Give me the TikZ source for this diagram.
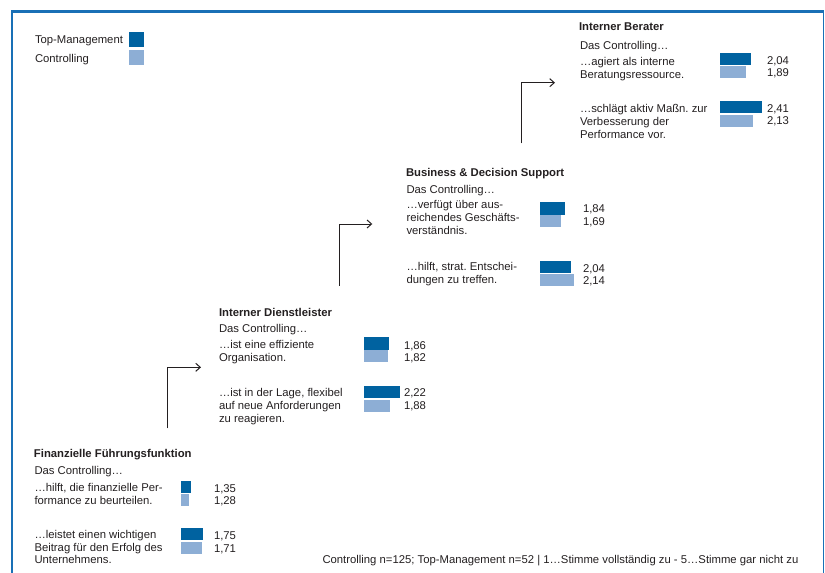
\documentclass[tikz,border=0pt]{standalone}
\usepackage{fontspec}
\setmainfont{Liberation Sans}
\usetikzlibrary{arrows.meta}
\frenchspacing
\definecolor{tmblue}{RGB}{0,98,160}
\definecolor{ctblue}{RGB}{141,174,213}
\definecolor{frameblue}{RGB}{25,112,182}
\definecolor{txtgray}{RGB}{35,31,32}
\tikzset{
  txt/.style={font=\fontsize{11.3}{12.8}\selectfont, text=txtgray, inner sep=0pt, outer sep=0pt, anchor=base west},
  head/.style={txt, font=\fontsize{11.3}{12.8}\selectfont\bfseries},
  item/.style={txt, align=left, anchor=north west},
  tmbar/.style={fill=tmblue, inner sep=0pt, outer sep=0pt, anchor=north west, minimum height=12.3pt},
  ctbar/.style={fill=ctblue, inner sep=0pt, outer sep=0pt, anchor=north west, minimum height=12.3pt},
  legbox/.style={inner sep=0pt, outer sep=0pt, anchor=north west, minimum width=15pt, minimum height=14.7pt},
  conn/.style={draw=txtgray, line width=1pt, -{Straight Barb[length=4.5pt,width=8pt]}},
  framepart/.style={draw=frameblue}
}
\begin{document}
\begin{tikzpicture}[x=1pt,y=-1pt]
\useasboundingbox (0,0) rectangle (825,573);
% frame
\coordinate (fl) at (12.2,573);
\coordinate (ftl) at (12.2,11.2);
\coordinate (ftr) at (823.5,11.2);
\coordinate (fr) at (823.5,573);
\draw[framepart, line width=2.4pt] (fl) -- (ftl);
\draw[framepart, line width=2.6pt] (11,11.2) -- (ftr);
\draw[framepart, line width=1.3pt] (ftr) -- (fr);

% legend
\node[txt] (legtm) at (35,43) {Top-Management};
\node[txt] (legct) at (35,62.5) {Controlling};
\node[legbox, fill=tmblue] (legtmbox) at (129,32) {};
\node[legbox, fill=ctblue] (legctbox) at (129,50) {};

% Block 1: Interner Berater
\node[head] (h1) at (579,30.7) {Interner Berater};
\node[txt] (s1) at (580,49.3) {Das Controlling…};
\node[item] (i1a) at (580,57.5) {…agiert als interne\\Beratungsressource.};
\node[item] (i1b) at (580,104.5) {…schlägt aktiv Maßn. zur\\Verbesserung der\\Performance vor.};
\node[tmbar, minimum width={30*(2.04-1)}] (b1at) at (719.5,52.7) {};
\node[ctbar, minimum width={30*(1.89-1)}] (b1ac) at (719.5,66) {};
\node[tmbar, minimum width={30*(2.41-1)}] (b1bt) at (719.5,100.7) {};
\node[ctbar, minimum width={30*(2.13-1)}] (b1bc) at (719.5,114.7) {};
\node[txt] (n1at) at (767,64) {2,04};
\node[txt] (n1ac) at (767,76) {1,89};
\node[txt] (n1bt) at (767,112.3) {2,41};
\node[txt] (n1bc) at (767,124.7) {2,13};

% Block 2: Business & Decision Support
\node[head] (h2) at (406,176.7) {Business \& Decision Support};
\node[txt] (s2) at (406.5,193.3) {Das Controlling…};
\node[item] (i2a) at (406.5,200.8) {…verfügt über aus-\\reichendes Geschäfts-\\verständnis.};
\node[item] (i2b) at (406.5,262.3) {…hilft, strat. Entschei-\\dungen zu treffen.};
\node[tmbar, minimum width={30*(1.84-1)}] (b2at) at (540,202.3) {};
\node[ctbar, minimum width={30*(1.69-1)}] (b2ac) at (540,215) {};
\node[tmbar, minimum width={30*(2.04-1)}] (b2bt) at (540,260.7) {};
\node[ctbar, minimum width={30*(2.14-1)}] (b2bc) at (540,274) {};
\node[txt] (n2at) at (583,212.3) {1,84};
\node[txt] (n2ac) at (583,225.7) {1,69};
\node[txt] (n2bt) at (583,272.3) {2,04};
\node[txt] (n2bc) at (583,284) {2,14};

% Block 3: Interner Dienstleister
\node[head] (h3) at (219,316.7) {Interner Dienstleister};
\node[txt] (s3) at (219,332.3) {Das Controlling…};
\node[item] (i3a) at (219,340.1) {…ist eine effiziente\\Organisation.};
\node[item] (i3b) at (219,388.5) {…ist in der Lage, flexibel\\auf neue Anforderungen\\zu reagieren.};
\node[tmbar, minimum width={30*(1.86-1)}] (b3at) at (363.5,337.3) {};
\node[ctbar, minimum width={30*(1.82-1)}] (b3ac) at (363.5,350) {};
\node[tmbar, minimum width={30*(2.22-1)}] (b3bt) at (363.5,386) {};
\node[ctbar, minimum width={30*(1.88-1)}] (b3bc) at (363.5,400) {};
\node[txt] (n3at) at (404,349.7) {1,86};
\node[txt] (n3ac) at (404,361.7) {1,82};
\node[txt] (n3bt) at (404,396.7) {2,22};
\node[txt] (n3bc) at (404,409.7) {1,88};

% Block 4: Finanzielle Führungsfunktion
\node[head] (h4) at (34,457.3) {Finanzielle Führungsfunktion};
\node[txt] (s4) at (34.5,474) {Das Controlling…};
\node[item] (i4a) at (34.5,483.5) {…hilft, die finanzielle Per-\\formance zu beurteilen.};
\node[item] (i4b) at (34.5,530.1) {…leistet einen wichtigen\\Beitrag für den Erfolg des\\Unternehmens.};
\node[tmbar, minimum width={30*(1.35-1)}] (b4at) at (180.5,480.7) {};
\node[ctbar, minimum width={30*(1.28-1)}] (b4ac) at (180.5,494) {};
\node[tmbar, minimum width={30*(1.75-1)}] (b4bt) at (180.5,527.7) {};
\node[ctbar, minimum width={30*(1.71-1)}] (b4bc) at (180.5,541.7) {};
\node[txt] (n4at) at (214,492.3) {1,35};
\node[txt] (n4ac) at (214,504.7) {1,28};
\node[txt] (n4bt) at (214,539) {1,75};
\node[txt] (n4bc) at (214,552.3) {1,71};

% footer
\node[txt] (foot) at (322.5,563) {Controlling n=125; Top-Management n=52 | 1…Stimme vollständig zu - 5…Stimme gar nicht zu};

% connectors
\coordinate (a1s) at (167.3,428.3);
\coordinate (a1e) at (201,367.3);
\coordinate (a2s) at (339,285.7);
\coordinate (a2e) at (372.3,224);
\coordinate (a3s) at (521,143.3);
\coordinate (a3e) at (555,82.7);
\draw[conn] (a1s) |- (a1e);
\draw[conn] (a2s) |- (a2e);
\draw[conn] (a3s) |- (a3e);
\end{tikzpicture}
\end{document}
